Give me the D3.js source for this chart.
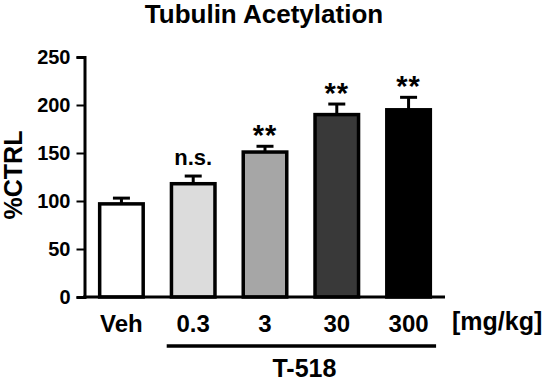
<!DOCTYPE html>
<html>
<head>
<meta charset="utf-8">
<script src="https://cdn.jsdelivr.net/npm/d3@7"></script>
<style>
    body { margin: 0; background: #fff; }
    svg text { font-family: "Liberation Sans", Arial, sans-serif; font-weight: bold; fill: #000; }
</style>
</head>
<body>
<div id="chart"></div>
<script>
(function() {
    'use strict';

    // data
    const groups = ["Veh", "0.3", "3", "30", "300"];
    const means = [97, 118, 151, 190, 195];
    const errors = [6, 8, 6, 11, 13];
    const sigLabels = ["", "n.s.", "**", "**", "**"];
    const fills = ["#ffffff", "#dcdcdc", "#a6a6a6", "#393939", "#000000"];
    const yTicks = [0, 50, 100, 150, 200, 250];

    const width = 551;
    const height = 388;
    const sw = 3.5; // bar outline

    const svg = d3.select("#chart")
        .append("svg")
        .attr("width", width)
        .attr("height", height);

    // scales
    const x = d3.scaleBand()
        .domain(groups)
        .range([85, 445])
        .paddingInner(0.345)
        .paddingOuter(0.18);

    const y = d3.scaleLinear()
        .domain([0, 250])
        .range([297, 57]);

    const data = groups.map((g, i) => ({ group: g, mean: means[i], err: errors[i], sig: sigLabels[i], fill: fills[i] }));

    // title
    svg.append("text")
        .attr("x", 264)
        .attr("y", 23)
        .attr("text-anchor", "middle")
        .attr("font-size", "26px")
        .text("Tubulin Acetylation");

    // error bars (upper only)
    const eb = svg.append("g");
    eb.selectAll("line.v")
        .data(data)
        .join("line")
        .attr("class", "v")
        .attr("x1", d => x(d.group) + x.bandwidth() / 2)
        .attr("x2", d => x(d.group) + x.bandwidth() / 2)
        .attr("y1", d => y(d.mean))
        .attr("y2", d => y(d.mean + d.err))
        .attr("stroke", "#000")
        .attr("stroke-width", 3);
    eb.selectAll("line.cap")
        .data(data)
        .join("line")
        .attr("class", "cap")
        .attr("x1", d => x(d.group) + x.bandwidth() / 2 - 8.5)
        .attr("x2", d => x(d.group) + x.bandwidth() / 2 + 8.5)
        .attr("y1", d => y(d.mean + d.err))
        .attr("y2", d => y(d.mean + d.err))
        .attr("stroke", "#000")
        .attr("stroke-width", 3);

    // bars
    svg.append("g")
        .selectAll("rect")
        .data(data)
        .join("rect")
        .attr("x", d => x(d.group) + sw / 2)
        .attr("y", d => y(d.mean))
        .attr("width", x.bandwidth() - sw)
        .attr("height", d => y(0) - y(d.mean))
        .attr("fill", d => d.fill)
        .attr("stroke", "#000")
        .attr("stroke-width", sw);

    // significance marks
    svg.append("g")
        .selectAll("text")
        .data(data.filter(d => d.sig))
        .join("text")
        .attr("x", d => x(d.group) + x.bandwidth() / 2)
        .attr("y", d => d.sig === "n.s." ? y(d.mean + d.err) - 11 : y(d.mean + d.err) - 1)
        .attr("text-anchor", "middle")
        .attr("font-size", d => d.sig === "n.s." ? "22px" : "29px")
        .attr("letter-spacing", d => d.sig === "n.s." ? "0px" : "1px")
        .text(d => d.sig);

    // Y AXIS
    svg.append("g")
        .attr("transform", "translate(84.5,0)")
        .call(d3.axisLeft(y).tickValues(yTicks).tickSize(8).tickPadding(6))
        .call(g => g.select(".domain").attr("stroke-width", 3))
        .call(g => g.selectAll(".tick line").attr("stroke-width", 2))
        .selectAll("text")
        .attr("font-size", "20px")
        .attr("font-family", "Liberation Sans, Arial, sans-serif")
        .attr("font-weight", "bold");

    // X AXIS line
    svg.append("line")
        .attr("x1", 83)
        .attr("x2", x.range()[1])
        .attr("y1", y(0))
        .attr("y2", y(0))
        .attr("stroke", "#000")
        .attr("stroke-width", 3);

    // category labels
    svg.append("g")
        .selectAll("text")
        .data(groups)
        .join("text")
        .attr("x", d => x(d) + x.bandwidth() / 2)
        .attr("y", 332)
        .attr("text-anchor", "middle")
        .attr("font-size", "24px")
        .text(d => d);

    svg.append("text")
        .attr("x", 452)
        .attr("y", 330)
        .attr("font-size", "25px")
        .text("[mg/kg]");

    // treatment bracket
    const lx1 = x(groups[1]) - 3;
    const lx2 = x(groups[groups.length - 1]) + x.bandwidth() + 4;
    svg.append("line")
        .attr("x1", lx1)
        .attr("x2", lx2)
        .attr("y1", 346)
        .attr("y2", 346)
        .attr("stroke", "#000")
        .attr("stroke-width", 3.5);
    svg.append("text")
        .attr("x", (lx1 + lx2) / 2 + 3)
        .attr("y", 377)
        .attr("text-anchor", "middle")
        .attr("font-size", "25px")
        .text("T-518");

    // y label
    svg.append("text")
        .attr("transform", "translate(22,175) rotate(-90)")
        .attr("text-anchor", "middle")
        .attr("font-size", "25px")
        .text("%CTRL");
})();
</script>
</body>
</html>
